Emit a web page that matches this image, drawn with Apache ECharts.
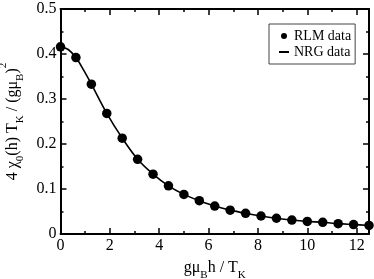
<!DOCTYPE html>
<html>
<head>
<meta charset="utf-8">
<script src="https://cdn.jsdelivr.net/npm/echarts@6/dist/echarts.min.js"></script>
<style>
html,body{margin:0;padding:0;background:#fff;}
#c{width:374px;height:279px;}
</style>
</head>
<body>
<div id="c"></div>
<script>
var hValues = [0, 0.625, 1.25, 1.875, 2.5, 3.125, 3.75, 4.375, 5.0, 5.625, 6.25, 6.875, 7.5, 8.125, 8.75, 9.375, 10.0, 10.625, 11.25, 11.875, 12.5];
var rlmValues = [0.416, 0.392, 0.333, 0.268, 0.213, 0.166, 0.133, 0.107, 0.088, 0.074, 0.062, 0.053, 0.046, 0.040, 0.035, 0.031, 0.028, 0.026, 0.023, 0.021, 0.019];
var nrgH = [0, 0.3125, 0.625, 0.9375, 1.25, 1.875, 2.5, 3.125, 3.75, 4.375, 5.0, 5.625, 6.25, 6.875, 7.5, 8.125, 8.75, 9.375, 10.0, 10.625, 11.25, 11.875, 12.5];
var nrgValues = [0.416, 0.410, 0.392, 0.364, 0.333, 0.268, 0.213, 0.166, 0.133, 0.107, 0.088, 0.074, 0.062, 0.053, 0.046, 0.040, 0.035, 0.031, 0.028, 0.026, 0.023, 0.021, 0.019];
var xTicks = [0, 2, 4, 6, 8, 10, 12];
var yTicks = [0, 0.1, 0.2, 0.3, 0.4, 0.5];

var FONT = '"Liberation Serif", "DejaVu Serif", serif';
var chart = echarts.init(document.getElementById('c'));

function pairs(xs, ys) { return xs.map(function (x, i) { return [x, ys[i]]; }); }

var baseAxisLine = { show: true, onZero: false, lineStyle: { color: '#000', width: 2 } };
var tickIn = { show: true, inside: true, length: 6, lineStyle: { color: '#000', width: 1.5 } };
var minorIn = { show: true, splitNumber: 2, length: 3, lineStyle: { color: '#000', width: 1.5 } };

var rich = {
  n: { fontFamily: FONT, fontSize: 16, color: '#000', lineHeight: 22, verticalAlign: 'middle' },
  sub: { fontFamily: FONT, fontSize: 11, color: '#000', lineHeight: 22, verticalAlign: 'bottom', padding: [0, 0, -2, 0] },
  sup: { fontFamily: FONT, fontSize: 11, color: '#000', lineHeight: 22, verticalAlign: 'top', padding: [-4, 0, 0, 0] }
};

var option = {
  backgroundColor: '#fff',
  animation: false,
  grid: { left: 60.5, right: 5, top: 9, bottom: 45, containLabel: false, outerBoundsMode: 'none' },
  legend: {
    show: true,
    orient: 'vertical',
    left: 269, top: 24,
    padding: [5, 4, 5, 9],
    itemGap: 2,
    itemWidth: 10, itemHeight: 6,
    borderColor: '#444', borderWidth: 1,
    textStyle: { fontFamily: FONT, fontSize: 14, color: '#000', lineHeight: 14 },
    data: [
      { name: 'RLM data', icon: 'circle', itemStyle: { color: '#000', opacity: 1 } },
      { name: 'NRG data', itemStyle: { color: 'rgba(0,0,0,0)', borderWidth: 0, opacity: 0 } }
    ]
  },
  xAxis: [{
    type: 'value', min: 0, max: 12.5, interval: 2, position: 'bottom',
    axisLine: baseAxisLine,
    minorTick: minorIn,
    splitLine: { show: false },
    axisLabel: {
      fontFamily: FONT, fontSize: 16, color: '#000', margin: 4,
      customValues: xTicks
    },
    axisTick: Object.assign({}, tickIn, { customValues: xTicks }),
    name: '{n|gμ}{sub|B}{n|h / T}{sub|K}',
    nameLocation: 'middle', nameGap: 23,
    nameTextStyle: { rich: rich }
  }, {
    type: 'value', min: 0, max: 12.5, interval: 2, position: 'top',
    axisLine: baseAxisLine,
    axisTick: Object.assign({}, tickIn, { customValues: xTicks }),
    minorTick: minorIn,
    axisLabel: { show: false }, splitLine: { show: false }
  }],
  yAxis: [{
    type: 'value', min: 0, max: 0.5, interval: 0.1, position: 'left',
    axisLine: baseAxisLine, axisTick: tickIn,
    minorTick: minorIn,
    splitLine: { show: false },
    axisLabel: {
      fontFamily: FONT, fontSize: 16, color: '#000', margin: 4,
      formatter: function (v) { return v === 0 ? '0' : v.toFixed(1); }
    },
    name: '{n|4 χ}{sub|0}{n|(h) T}{sub|K}{n| / (gμ}{sub|B}{n|)}{sup|2}',
    nameLocation: 'middle', nameGap: 37, nameRotate: 90,
    nameTextStyle: { rich: rich }
  }, {
    type: 'value', min: 0, max: 0.5, interval: 0.1, position: 'right',
    axisLine: baseAxisLine, axisTick: tickIn,
    minorTick: minorIn,
    axisLabel: { show: false }, splitLine: { show: false }
  }],
  series: [{
    name: 'NRG data', type: 'line',
    data: pairs(nrgH, nrgValues),
    smooth: 0.35, showSymbol: false, symbol: 'none',
    lineStyle: { color: '#000', width: 1.6 },
    itemStyle: { color: '#000' },
    z: 2
  }, {
    name: 'RLM data', type: 'scatter',
    data: pairs(hValues, rlmValues),
    symbol: 'circle', symbolSize: 9.5,
    itemStyle: { color: '#000', opacity: 1 },
    clip: false,
    z: 3
  }, {
    name: 'frame', type: 'line', xAxisIndex: 1, yAxisIndex: 1,
    data: [], silent: true, symbol: 'none'
  }]
};
chart.setOption(option);
</script>
</body>
</html>
